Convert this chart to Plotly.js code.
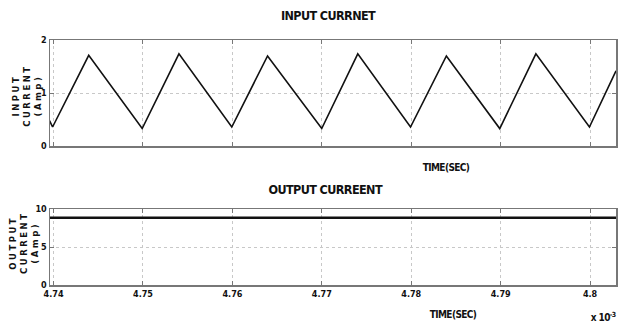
<!DOCTYPE html>
<html><head><meta charset="utf-8">
<script src="https://cdn.plot.ly/plotly-3.0.1.min.js"></script>
<style>
body{margin:0;background:#fff}#c{width:626px;height:330px}
#c .annotation-text{letter-spacing:-0.6px}
#c .annotation[data-index="5"] .annotation-text,
#c .annotation[data-index="6"] .annotation-text{letter-spacing:2.5px}
</style>
</head><body><div id="c"></div>
<script>
// time in units of 1e-3 s
const inTime = [4.73955, 4.73989, 4.74393, 4.74991, 4.75402, 4.75993, 4.76393, 4.76999, 4.77402, 4.77992, 4.78393, 4.78990, 4.79394, 4.79993, 4.80290];
const inCurrent = [0.48, 0.36, 1.71, 0.33, 1.74, 0.36, 1.70, 0.33, 1.74, 0.36, 1.70, 0.33, 1.74, 0.36, 1.42];
const outTime = [4.7396, 4.8029];
const outCurrent = [8.86, 8.86];
const xTicks = [4.74, 4.75, 4.76, 4.77, 4.78, 4.79, 4.8];
const xTickText = ['4.74', '4.75', '4.76', '4.77', '4.78', '4.79', '4.8'];

const condensed = 'DejaVu Sans Condensed, Liberation Sans Narrow, sans-serif';
const tickFont = {family: condensed, size: 9, color: '#111', weight: 700};
const axTitleFont = {family: 'DejaVu Sans, sans-serif', size: 8.5, color: '#111', weight: 700};
const titleFont = {family: condensed, size: 12.5, color: '#111', weight: 700};
const smallFont = {family: condensed, size: 10, color: '#111', weight: 700};
const xr = [4.7396, 4.8029];
const baseX = {
  range: xr, tickvals: xTicks, ticktext: xTickText, showgrid: true,
  gridcolor: '#c8c8c8', griddash: 'dot', gridwidth: 1,
  showline: true, linecolor: '#777', linewidth: 1.5, mirror: 'ticks',
  ticks: 'inside', ticklen: 4, tickcolor: '#777', zeroline: false, tickfont: tickFont
};
const baseY = {
  showgrid: true, gridcolor: '#c8c8c8', griddash: 'dot', gridwidth: 1,
  showline: true, linecolor: '#777', linewidth: 1.5, mirror: 'ticks',
  ticks: 'inside', ticklen: 4, tickcolor: '#777', zeroline: false, tickfont: tickFont
};
const traces = [
  {x: inTime, y: inCurrent, type: 'scatter', mode: 'lines', line: {color: '#111', width: 1.6}, xaxis: 'x', yaxis: 'y', hoverinfo: 'skip'},
  {x: outTime, y: outCurrent, type: 'scatter', mode: 'lines', line: {color: '#111', width: 2.6}, xaxis: 'x2', yaxis: 'y2', hoverinfo: 'skip'}
];
const layout = {
  width: 626, height: 330, paper_bgcolor: '#fff', plot_bgcolor: '#fff', showlegend: false,
  margin: {l: 50, r: 10, t: 40, b: 45},
  xaxis: Object.assign({}, baseX, {anchor: 'y', showticklabels: false}),
  yaxis: Object.assign({}, baseY, {domain: [0.567, 1], range: [0, 2], tickvals: [0, 1, 2]}),
  xaxis2: Object.assign({}, baseX, {anchor: 'y2'}),
  yaxis2: Object.assign({}, baseY, {domain: [0, 0.31], range: [0, 10], tickvals: [0, 5, 10]}),
  annotations: [
    {text: 'INPUT CURRNET', xref: 'paper', yref: 'paper', x: 0.492, y: 1.1, yanchor: 'middle', showarrow: false, font: titleFont},
    {text: 'OUTPUT CURREENT', xref: 'paper', yref: 'paper', x: 0.487, y: 0.388, yanchor: 'middle', showarrow: false, font: titleFont},
    {text: 'TIME(SEC)', xref: 'paper', yref: 'paper', x: 0.749, y: 0.478, yanchor: 'middle', showarrow: false, font: smallFont},
    {text: 'TIME(SEC)', xref: 'paper', yref: 'paper', x: 0.761, y: -0.122, yanchor: 'middle', showarrow: false, font: smallFont},
    {text: 'x 10<sup>-3</sup>', xref: 'paper', yref: 'paper', x: 1.005, y: -0.13, xanchor: 'right', yanchor: 'middle', showarrow: false, font: smallFont},
    {text: 'INPUT<br>CURRENT<br>(Amp)', xref: 'paper', yref: 'paper', x: -0.0405, y: 0.7714, xanchor: 'center', yanchor: 'middle', textangle: -90, showarrow: false, font: axTitleFont},
    {text: 'OUTPUT<br>CURRENT<br>(Amp)', xref: 'paper', yref: 'paper', x: -0.0455, y: 0.1714, xanchor: 'center', yanchor: 'middle', textangle: -90, showarrow: false, font: axTitleFont}
  ]
};
Plotly.newPlot('c', traces, layout, {displayModeBar: false, staticPlot: true});
</script>
</body></html>
